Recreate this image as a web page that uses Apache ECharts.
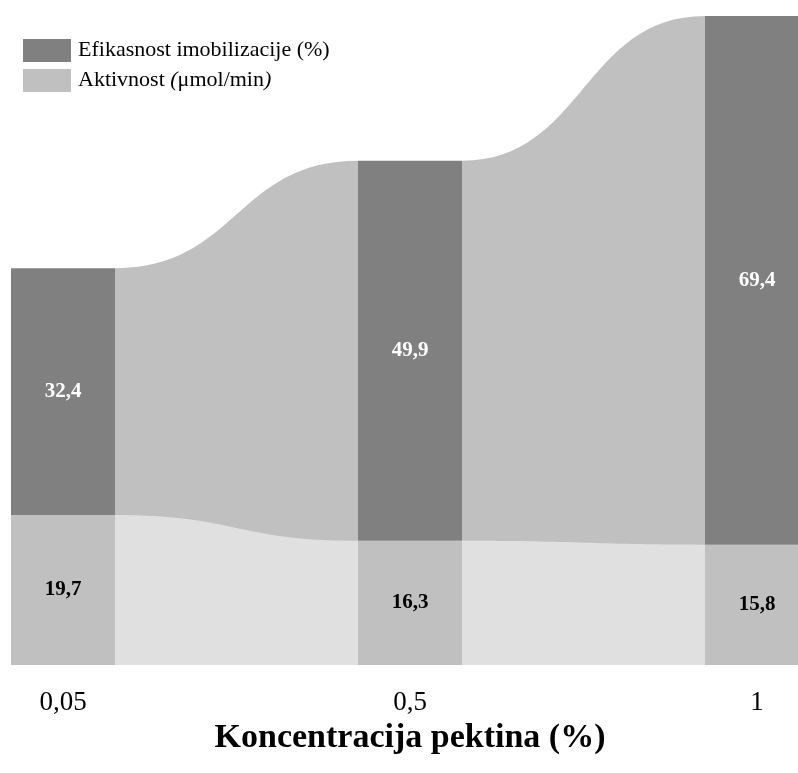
<!DOCTYPE html>
<html>
<head>
<meta charset="utf-8">
<script src="https://cdn.jsdelivr.net/npm/echarts@6/dist/echarts.min.js"></script>
<style>html,body{margin:0;padding:0;background:#fff}#c{width:798px;height:773px}</style>
</head>
<body>
<div id="c"></div>
<script>
var categories = ['0,05', '0,5', '1'];
var aktivnost = [19.7, 16.3, 15.8];
var efikasnost = [32.4, 49.9, 69.4];
var seriesNames = ['Efikasnost imobilizacije (%)', 'Aktivnost (μmol/min)'];
var axisTitle = 'Koncentracija pektina (%)';

var BAR_W = 104;
var FONT = '"Liberation Serif", "Times New Roman", serif';

// ribbon data: [index, boundary_i, top_i, boundary_next, top_next]
var ribbonData = [];
for (var i = 0; i < categories.length - 1; i++) {
  ribbonData.push([i, aktivnost[i], aktivnost[i] + efikasnost[i], aktivnost[i + 1], aktivnost[i + 1] + efikasnost[i + 1]]);
}

function ribbonPath(api, which) {
  var i = api.value(0);
  var v1 = which === 'top' ? api.value(2) : api.value(1);
  var v2 = which === 'top' ? api.value(4) : api.value(3);
  var p1 = api.coord([i, v1]);
  var p2 = api.coord([i + 1, v2]);
  var b1 = api.coord([i, 0]);
  var b2 = api.coord([i + 1, 0]);
  var x1 = p1[0] + BAR_W / 2, x2 = p2[0] - BAR_W / 2;
  var xm = (x1 + x2) / 2;
  return 'M' + x1 + ' ' + b1[1] + ' L' + x1 + ' ' + p1[1] +
    ' C' + xm + ' ' + p1[1] + ' ' + xm + ' ' + p2[1] + ' ' + x2 + ' ' + p2[1] +
    ' L' + x2 + ' ' + b2[1] + ' Z';
}

var chart = echarts.init(document.getElementById('c'), null, {renderer: 'canvas'});
chart.setOption({
  backgroundColor: '#ffffff',
  animation: false,
  grid: {left: 63, right: 41, top: 16, bottom: 108, containLabel: false},
  legend: {
    data: seriesNames,
    orient: 'vertical',
    left: 23, top: 39,
    padding: 0,
    itemWidth: 48, itemHeight: 23, itemGap: 7,
    icon: 'rect',
    textStyle: {
      fontFamily: FONT, fontSize: 22, color: '#000', padding: [0, 0, 0, 2],
      rich: {i: {fontFamily: FONT, fontSize: 22, fontStyle: 'italic', color: '#000'}}
    },
    formatter: function (n) {
      if (n === seriesNames[1]) return 'Aktivnost {i|(}μmol/min{i|)}';
      return n;
    }
  },
  xAxis: {
    type: 'category',
    data: categories,
    boundaryGap: false,
    axisLine: {show: false},
    axisTick: {show: false},
    splitLine: {show: false},
    axisLabel: {fontFamily: FONT, fontSize: 27, color: '#000', margin: 24},
    name: axisTitle,
    nameLocation: 'middle',
    nameGap: 52,
    nameTextStyle: {fontFamily: FONT, fontSize: 34, fontWeight: 'bold', color: '#000'}
  },
  yAxis: {
    type: 'value', min: 0, max: 'dataMax', show: false,
    splitLine: {show: false}
  },
  series: [
    {
      type: 'custom', name: 'ribbonTop', z: 1, silent: true,
      data: ribbonData,
      renderItem: function (params, api) {
        return {type: 'path', shape: {pathData: ribbonPath(api, 'top')}, style: {fill: '#c0c0c0'}};
      }
    },
    {
      type: 'custom', name: 'ribbonBottom', z: 2, silent: true,
      data: ribbonData,
      renderItem: function (params, api) {
        return {type: 'path', shape: {pathData: ribbonPath(api, 'bottom')}, style: {fill: '#e0e0e0'}};
      }
    },
    {
      type: 'bar', name: seriesNames[1], stack: 'total', barWidth: BAR_W, clip: false, z: 3,
      data: aktivnost,
      itemStyle: {color: '#c0c0c0'},
      label: {
        show: true, position: 'inside', fontFamily: FONT, fontSize: 21, fontWeight: 'bold', color: '#000',
        formatter: function (p) { return String(p.value).replace('.', ','); }
      }
    },
    {
      type: 'bar', name: seriesNames[0], stack: 'total', barWidth: BAR_W, clip: false, z: 3,
      data: efikasnost,
      itemStyle: {color: '#808080'},
      label: {
        show: true, position: 'inside', fontFamily: FONT, fontSize: 21, fontWeight: 'bold', color: '#fff',
        formatter: function (p) { return String(p.value).replace('.', ','); }
      }
    }
  ]
});
</script>
</body>
</html>
